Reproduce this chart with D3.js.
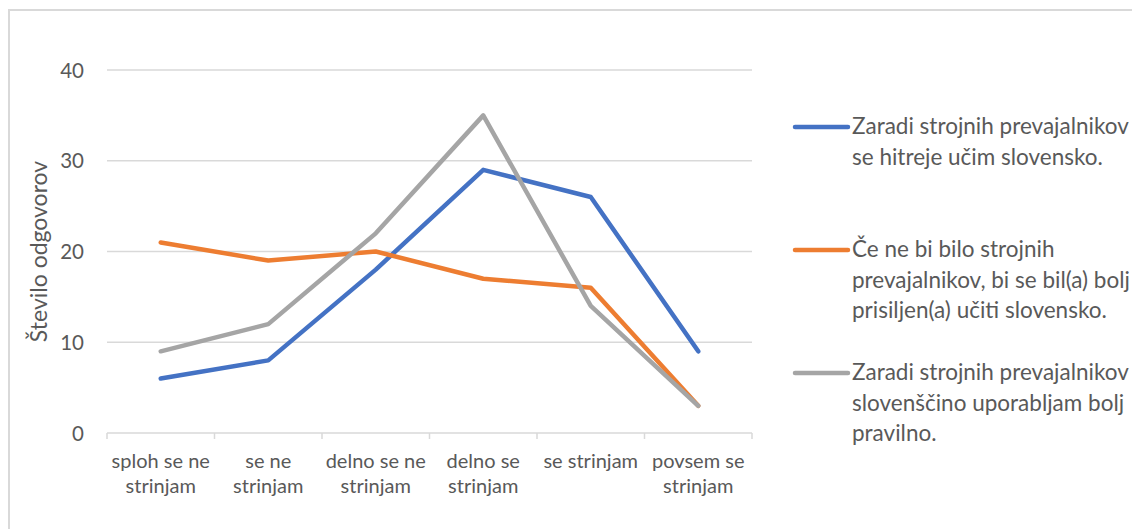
<!DOCTYPE html>
<html>
<head>
<meta charset="utf-8">
<script src="https://cdn.jsdelivr.net/npm/d3@7"></script>
<style>
  html, body { margin: 0; padding: 0; background: #fff; }
  svg { display: block; }
  text { font-family: Lato, "Open Sans", sans-serif; fill: #595959; }
</style>
</head>
<body>
<svg id="chart" width="1132" height="529"></svg>
<script>
// Answer categories (x axis), each split over two lines
const categories = [
  ["sploh se ne", "strinjam"],
  ["se ne", "strinjam"],
  ["delno se ne", "strinjam"],
  ["delno se", "strinjam"],
  ["se strinjam"],
  ["povsem se", "strinjam"]
];

// Number of answers per statement
const fasterLearning = [6, 8, 18, 29, 26, 9];
const forcedToLearn = [21, 19, 20, 17, 16, 3];
const moreCorrectUse = [9, 12, 22, 35, 14, 3];

const seriesNames = [
  ["Zaradi strojnih prevajalnikov", "se hitreje učim slovensko."],
  ["Če ne bi bilo strojnih", "prevajalnikov, bi se bil(a) bolj", "prisiljen(a) učiti slovensko."],
  ["Zaradi strojnih prevajalnikov", "slovenščino uporabljam bolj", "pravilno."]
];
const seriesColors = ["#4472C4", "#ED7D31", "#A5A5A5"];
const yTicks = [0, 10, 20, 30, 40];
const yTitle = "Število odgovorov";

const series = [fasterLearning, forcedToLearn, moreCorrectUse];

const svg = d3.select("#chart");

// Chart frame (right and bottom edges fall outside the window)
svg.append("rect")
  .attr("x", 9).attr("y", 10)
  .attr("width", 1200).attr("height", 600)
  .attr("fill", "none")
  .attr("stroke", "#d9d9d9")
  .attr("stroke-width", 2);

const plot = { left: 107, right: 752, top: 70, bottom: 433 };

const x = d3.scaleBand()
  .domain(d3.range(categories.length))
  .range([plot.left, plot.right])
  .paddingInner(0).paddingOuter(0);

const y = d3.scaleLinear()
  .domain([0, 40])
  .range([plot.bottom, plot.top]);

// Horizontal gridlines
svg.append("g")
  .selectAll("line")
  .data(yTicks.filter(t => t > 0))
  .join("line")
  .attr("x1", plot.left).attr("x2", plot.right)
  .attr("y1", d => y(d)).attr("y2", d => y(d))
  .attr("stroke", "#d9d9d9")
  .attr("stroke-width", 1.5);

// Y tick labels
svg.append("g")
  .selectAll("text")
  .data(yTicks)
  .join("text")
  .attr("x", 84)
  .attr("y", d => y(d) + 7.5)
  .attr("text-anchor", "end")
  .attr("font-size", 20.5)
  .text(d => d);

// Y axis title
svg.append("text")
  .attr("transform", `translate(47, ${(plot.top + plot.bottom) / 2}) rotate(-90)`)
  .attr("text-anchor", "middle")
  .attr("font-size", 23)
  .text(yTitle);

// X axis line and category boundary ticks
const xAxis = svg.append("g").attr("stroke", "#d9d9d9").attr("stroke-width", 1.5);
xAxis.append("line")
  .attr("x1", plot.left).attr("x2", plot.right)
  .attr("y1", plot.bottom).attr("y2", plot.bottom);
xAxis.selectAll("line.tick")
  .data(d3.range(categories.length + 1))
  .join("line")
  .attr("class", "tick")
  .attr("x1", i => i < categories.length ? x(i) : x(categories.length - 1) + x.bandwidth())
  .attr("x2", i => i < categories.length ? x(i) : x(categories.length - 1) + x.bandwidth())
  .attr("y1", plot.bottom).attr("y2", plot.bottom + 6);

// Category labels
const catLabels = svg.append("g")
  .selectAll("text")
  .data(categories)
  .join("text")
  .attr("x", (d, i) => x(i) + x.bandwidth() / 2)
  .attr("y", 468)
  .attr("text-anchor", "middle")
  .attr("font-size", 20);
catLabels.selectAll("tspan")
  .data(d => d)
  .join("tspan")
  .attr("x", function () { return d3.select(this.parentNode).attr("x"); })
  .attr("dy", (d, i) => i === 0 ? 0 : 25)
  .text(d => d);

// Series lines
const line = d3.line()
  .x((d, i) => x(i) + x.bandwidth() / 2)
  .y(d => y(d));

svg.append("g")
  .selectAll("path")
  .data(series)
  .join("path")
  .attr("d", line)
  .attr("fill", "none")
  .attr("stroke", (d, i) => seriesColors[i])
  .attr("stroke-width", 4.5)
  .attr("stroke-linejoin", "round")
  .attr("stroke-linecap", "round");

// Legend
const legendY = [127, 250, 373];
const legend = svg.append("g")
  .selectAll("g")
  .data(seriesNames)
  .join("g")
  .attr("transform", (d, i) => `translate(0, ${legendY[i]})`);

legend.append("line")
  .attr("x1", 795).attr("x2", 848)
  .attr("y1", 0).attr("y2", 0)
  .attr("stroke", (d, i) => seriesColors[i])
  .attr("stroke-width", 4.5)
  .attr("stroke-linecap", "round");

const legendText = legend.append("text")
  .attr("x", 852)
  .attr("y", 7)
  .attr("font-size", 22.5);
legendText.selectAll("tspan")
  .data(d => d)
  .join("tspan")
  .attr("x", 852)
  .attr("dy", (d, i) => i === 0 ? 0 : 30.5)
  .text(d => d);
</script>
</body>
</html>
